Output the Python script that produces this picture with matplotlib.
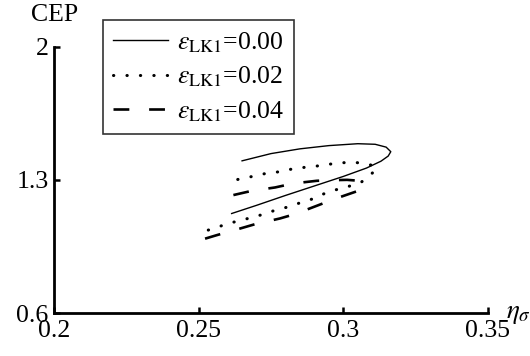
import numpy as np
import matplotlib.pyplot as plt

plt.rcParams['font.family'] = ['Liberation Serif', 'DejaVu Serif']
plt.rcParams['mathtext.fontset'] = 'stix'

# eps_LK1 = 0.00 (upper branch -> tip -> lower branch)
x0 = [0.265, 0.275, 0.285, 0.295, 0.305, 0.311, 0.3148, 0.3164, 0.3155,
      0.313, 0.308, 0.300, 0.290, 0.280, 0.270, 0.2614]
y0 = [1.400, 1.438, 1.463, 1.480, 1.490, 1.487, 1.472, 1.448, 1.425,
      1.398, 1.362, 1.318, 1.268, 1.218, 1.166, 1.123]

# eps_LK1 = 0.02
x2 = [0.2635, 0.2689, 0.2733, 0.2776, 0.2816, 0.2862, 0.2906, 0.2945, 0.2989,
      0.3031, 0.3075, 0.3105, 0.3115, 0.3093, 0.3058, 0.3012, 0.297, 0.293,
      0.289, 0.285, 0.281, 0.2764, 0.2724, 0.2683, 0.2643, 0.2603, 0.2551, 0.252]
y2 = [1.302, 1.319, 1.334, 1.342, 1.355, 1.365, 1.372, 1.381, 1.389,
      1.393, 1.386, 1.374, 1.358, 1.325, 1.283, 1.263, 1.246, 1.225,
      1.198, 1.179, 1.158, 1.140, 1.119, 1.102, 1.086, 1.071, 1.044, 1.030]

# eps_LK1 = 0.04
x4 = [0.262, 0.2683, 0.2764, 0.2827, 0.2908, 0.2954, 0.3013, 0.3047, 0.3069,
      0.3047, 0.2965, 0.2914, 0.2833, 0.2781, 0.2695, 0.2643, 0.2562, 0.2505]
y4 = [1.220, 1.242, 1.260, 1.281, 1.295, 1.298, 1.300, 1.296, 1.272,
      1.240, 1.197, 1.167, 1.120, 1.097, 1.067, 1.044, 1.009, 0.983]

labels = [r'$\varepsilon_{\mathrm{LK1}}$=0.00',
          r'$\varepsilon_{\mathrm{LK1}}$=0.02',
          r'$\varepsilon_{\mathrm{LK1}}$=0.04']

xticks = [0.2, 0.25, 0.3, 0.35]
xticklabels = ['0.2', '0.25', '0.3', '0.35']
yticks = [0.6, 1.3, 2.0]
yticklabels = ['0.6', '1.3', '2']

fs = 18.5

fig = plt.figure(figsize=(5.3, 3.56), dpi=100)
ax = fig.add_axes([54/530, 1 - 313/356, (488-54)/530, (313-46.7)/356])

ax.plot(x0, y0, color='black', linewidth=1.0, label=labels[0])
ax.plot(x2, y2, color='black', linewidth=2.2, linestyle=(0, (0.1, 4.3)),
        dash_capstyle='round', label=labels[1])
ax.plot(x4, y4, color='black', linewidth=1.9, linestyle=(0, (6, 7.5)),
        label=labels[2])

ax.set_xlim(0.2, 0.35)
ax.set_ylim(0.6, 2.0)
ax.set_xticks(xticks)
ax.set_xticklabels(xticklabels)
ax.set_yticks(yticks)
ax.set_yticklabels(yticklabels)
ax.tick_params(direction='in', length=4, width=1.8, labelsize=fs, pad=4)
ax.tick_params(axis='x', pad=5)
for side in ['top', 'right']:
    ax.spines[side].set_visible(False)
for side in ['left', 'bottom']:
    ax.spines[side].set_linewidth(2.0)

fig.text(55/530, 1 - 15/356, 'CEP', fontsize=fs, ha='center', va='center')
ax.text(0.3562, 0.6, r'$\eta_\sigma$', fontsize=fs + 1, ha='left', va='center',
        clip_on=False)

leg = ax.legend(loc='upper left', bbox_to_anchor=(102.7/530, 1 - 20/356),
                bbox_transform=fig.transFigure, fontsize=fs, frameon=True,
                fancybox=False, edgecolor='black', handlelength=2.15,
                borderpad=0.4, labelspacing=0.38, handletextpad=0.35,
                borderaxespad=0)
leg.get_frame().set_linewidth(1.2)

fig.savefig('out.png', dpi=100)
